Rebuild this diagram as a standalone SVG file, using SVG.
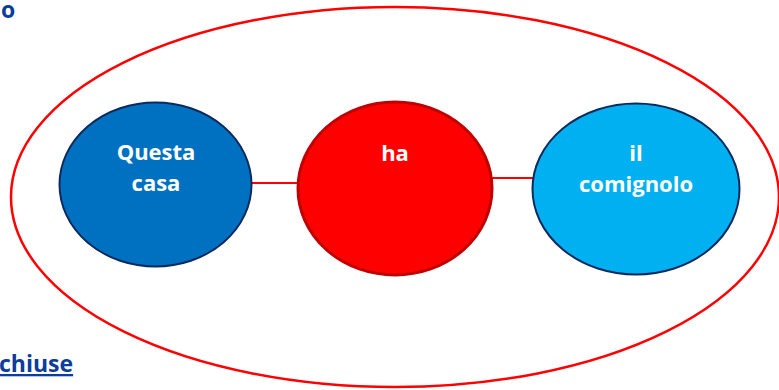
<svg xmlns="http://www.w3.org/2000/svg" width="779" height="390" viewBox="0 0 779 390">
  <style>
    .node-label { font-family: "Open Sans", "Liberation Sans", sans-serif; font-weight: bold; font-size: 22px; fill: #FFFFFF; text-anchor: middle; }
    .side-text { font-family: "Open Sans", "Liberation Sans", sans-serif; font-weight: bold; font-size: 23px; fill: #0B3C9E; }
    .link { stroke: #FF0000; stroke-width: 2; fill: none; }
  </style>
  <rect width="779" height="390" fill="#FFFFFF"/>

  <text class="side-text" x="1" y="18">o</text>
  <text class="side-text" x="-1" y="372" text-decoration="underline">chiuse</text>

  <ellipse id="frame" cx="395" cy="197" rx="384" ry="190" fill="none" stroke="#FF0000" stroke-width="2.5"/>

  <g id="connectors">
    <line class="link" x1="252" y1="183" x2="298" y2="183"/>
    <line class="link" x1="492" y1="178" x2="533" y2="178"/>
  </g>

  <g id="node-questa-casa">
    <ellipse cx="155.5" cy="184.5" rx="96" ry="82" fill="#0070C0" stroke="#0B2A5E" stroke-width="2"/>
    <text class="node-label" x="156" y="160">Questa</text>
    <text class="node-label" x="156" y="191">casa</text>
  </g>

  <g id="node-ha">
    <ellipse cx="395" cy="188.5" rx="97" ry="86.5" fill="#FF0000" stroke="#C00000" stroke-width="3"/>
    <text class="node-label" x="395" y="161">ha</text>
  </g>

  <g id="node-comignolo">
    <ellipse cx="636" cy="189" rx="103.5" ry="85.5" fill="#00B0F0" stroke="#0B2A5E" stroke-width="2"/>
    <text class="node-label" x="636" y="161">il</text>
    <text class="node-label" x="636" y="192">comignolo</text>
  </g>
</svg>
